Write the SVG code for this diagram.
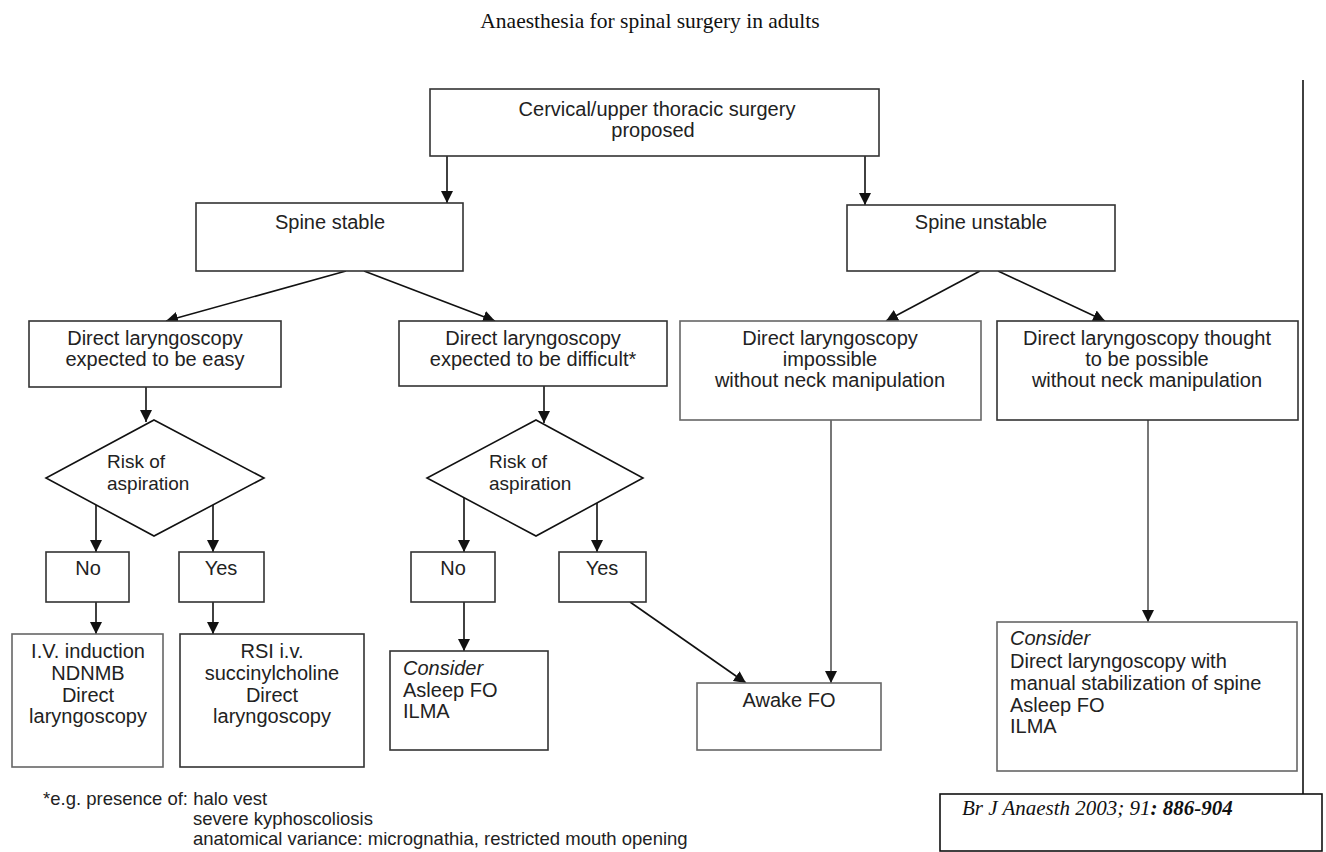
<svg xmlns="http://www.w3.org/2000/svg" width="1326" height="852" viewBox="0 0 1326 852">
<defs>
<marker id="ah" markerUnits="userSpaceOnUse" markerWidth="12" markerHeight="12" refX="12" refY="6" orient="auto">
<path d="M0,0 L12,6 L0,12 z" fill="#111"/>
</marker>
<style>
.box{fill:#fff;stroke:#333;stroke-width:1.6}
.lbox{fill:#fff;stroke:#666;stroke-width:1.6}
.dia{fill:#fff;stroke:#111;stroke-width:1.6}
.t{font-family:"Liberation Sans",Arial,Helvetica,sans-serif;font-size:20px;fill:#222}
.d{font-family:"Liberation Sans",Arial,Helvetica,sans-serif;font-size:19px;fill:#222}
.c{text-anchor:middle}
.i{font-style:italic}
.fn{font-family:"Liberation Sans",Arial,Helvetica,sans-serif;font-size:18.5px;fill:#222}
.con{fill:none;stroke:#111;stroke-width:1.6;marker-end:url(#ah)}
.gcon{fill:none;stroke:#555;stroke-width:1.6;marker-end:url(#ah)}
.serif{font-family:"Liberation Serif","Times New Roman",serif}
</style>
</defs>
<rect width="1326" height="852" fill="#fff"/>
<text class="serif" x="650" y="28" font-size="21.5" text-anchor="middle" fill="#111">Anaesthesia for spinal surgery in adults</text>
<line x1="1303" y1="80" x2="1303" y2="794" stroke="#111" stroke-width="1.6"/>

<g id="connectors">
<line class="con" x1="447" y1="156" x2="447" y2="203"/>
<line class="con" x1="865" y1="156" x2="865" y2="205"/>
<line class="con" x1="346" y1="271" x2="166" y2="321"/>
<line class="con" x1="364" y1="271" x2="495" y2="321"/>
<line class="con" x1="980" y1="271" x2="886" y2="321"/>
<line class="con" x1="998" y1="271" x2="1105" y2="321"/>
<line class="con" x1="146" y1="387" x2="146" y2="422"/>
<line class="con" x1="544" y1="386" x2="544" y2="423"/>
<line class="con" x1="96" y1="505" x2="96" y2="552"/>
<line class="con" x1="213" y1="505" x2="213" y2="552"/>
<line class="con" x1="464" y1="498" x2="464" y2="552"/>
<line class="con" x1="597" y1="503" x2="597" y2="552"/>
<line class="con" x1="96" y1="602" x2="96" y2="634"/>
<line class="con" x1="213" y1="602" x2="213" y2="634"/>
<line class="con" x1="464" y1="602" x2="464" y2="651"/>
<line class="con" x1="630" y1="602" x2="746" y2="683"/>
<line class="gcon" x1="831" y1="420" x2="831" y2="683"/>
<line class="gcon" x1="1148" y1="420" x2="1148" y2="622"/>
</g>

<g id="n-top">
<rect class="box" x="430" y="89" width="449" height="67"/>
<text class="t c" x="657" y="116">Cervical/upper thoracic surgery</text>
<text class="t c" x="653" y="137">proposed</text>
</g>
<g id="n-stable">
<rect class="box" x="196" y="203" width="267" height="68"/>
<text class="t c" x="330" y="229">Spine stable</text>
</g>
<g id="n-unstable">
<rect class="box" x="847" y="205" width="268" height="66"/>
<text class="t c" x="981" y="229">Spine unstable</text>
</g>
<g id="n-easy">
<rect class="box" x="29" y="321" width="252" height="66"/>
<text class="t c" x="155" y="345">Direct laryngoscopy</text>
<text class="t c" x="155" y="366">expected to be easy</text>
</g>
<g id="n-difficult">
<rect class="box" x="399" y="321" width="268" height="65"/>
<text class="t c" x="533" y="345">Direct laryngoscopy</text>
<text class="t c" x="533" y="366">expected to be difficult*</text>
</g>
<g id="n-impossible">
<rect class="lbox" x="680" y="321" width="301" height="99"/>
<text class="t c" x="830" y="345">Direct laryngoscopy</text>
<text class="t c" x="830" y="366">impossible</text>
<text class="t c" x="830" y="387">without neck manipulation</text>
</g>
<g id="n-thought">
<rect class="box" x="997" y="321" width="301" height="99"/>
<text class="t c" x="1147" y="345">Direct laryngoscopy thought</text>
<text class="t c" x="1147" y="366">to be possible</text>
<text class="t c" x="1147" y="387">without neck manipulation</text>
</g>
<g id="n-risk1">
<polygon class="dia" points="154,420 264,478 154,536 46,478"/>
<text class="d" x="107" y="468">Risk of</text>
<text class="d" x="107" y="490">aspiration</text>
</g>
<g id="n-risk2">
<polygon class="dia" points="536,420 643,478 536,536 427,478"/>
<text class="d" x="489" y="468">Risk of</text>
<text class="d" x="489" y="490">aspiration</text>
</g>
<g id="n-no1">
<rect class="box" x="46" y="552" width="83" height="50"/>
<text class="t c" x="88" y="575">No</text>
</g>
<g id="n-yes1">
<rect class="box" x="179" y="552" width="85" height="50"/>
<text class="t c" x="221" y="575">Yes</text>
</g>
<g id="n-no2">
<rect class="box" x="411" y="552" width="84" height="50"/>
<text class="t c" x="453" y="575">No</text>
</g>
<g id="n-yes2">
<rect class="box" x="559" y="552" width="87" height="50"/>
<text class="t c" x="602" y="575">Yes</text>
</g>
<g id="n-iv">
<rect class="lbox" x="12" y="634" width="151" height="133"/>
<text class="t c" x="88" y="658">I.V. induction</text>
<text class="t c" x="88" y="680">NDNMB</text>
<text class="t c" x="88" y="702">Direct</text>
<text class="t c" x="88" y="723">laryngoscopy</text>
</g>
<g id="n-rsi">
<rect class="box" x="180" y="634" width="184" height="133"/>
<text class="t c" x="272" y="658">RSI i.v.</text>
<text class="t c" x="272" y="680">succinylcholine</text>
<text class="t c" x="272" y="702">Direct</text>
<text class="t c" x="272" y="723">laryngoscopy</text>
</g>
<g id="n-consider1">
<rect class="box" x="390" y="651" width="158" height="99"/>
<text class="t i" x="403" y="675">Consider</text>
<text class="t" x="403" y="697">Asleep FO</text>
<text class="t" x="403" y="718">ILMA</text>
</g>
<g id="n-awake">
<rect class="lbox" x="697" y="683" width="184" height="67"/>
<text class="t c" x="789" y="707">Awake FO</text>
</g>
<g id="n-consider2">
<rect class="lbox" x="997" y="622" width="300" height="149"/>
<text class="t i" x="1010" y="645">Consider</text>
<text class="t" x="1010" y="668">Direct laryngoscopy with</text>
<text class="t" x="1010" y="690">manual stabilization of spine</text>
<text class="t" x="1010" y="712">Asleep FO</text>
<text class="t" x="1010" y="733">ILMA</text>
</g>
<g id="footnote">
<text class="fn" x="43" y="805">*e.g. presence of: halo vest</text>
<text class="fn" x="193" y="825">severe kyphoscoliosis</text>
<text class="fn" x="193" y="845">anatomical variance: micrognathia, restricted mouth opening</text>
</g>
<g id="citation">
<rect x="940" y="794" width="382" height="57" fill="#fff" stroke="#111" stroke-width="1.6"/>
<text class="serif" x="962" y="815" font-size="21" font-style="italic" fill="#111">Br J Anaesth 2003; 91<tspan font-weight="bold">: 886-904</tspan></text>
</g>
</svg>
